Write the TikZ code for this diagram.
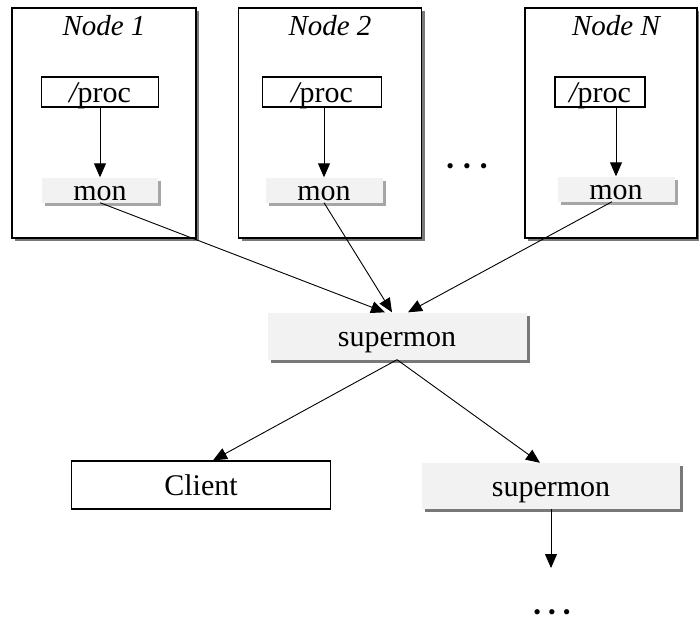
\documentclass[tikz,border=0pt]{standalone}
\usepackage{fontspec}
\setmainfont{Liberation Serif}
\usetikzlibrary{arrows.meta,shadows,positioning}
\definecolor{boxgray}{RGB}{242,242,242}
\definecolor{shadegray}{RGB}{120,120,120}

\begin{document}
\begin{tikzpicture}[%
    x=1pt, y=-1pt,
    >={Triangle[width=12pt,length=14pt]},
    font=\fontsize{30}{32}\selectfont,
    every node/.style={inner sep=0pt},
    boxtext/.style={text height=20pt, text depth=0pt},
    host/.style={draw, line width=1.3pt, fill=white, minimum height=230pt,
        drop shadow={shadow xshift=3pt, shadow yshift=-3pt, fill=shadegray, opacity=1}},
    hostlabel/.style={font=\fontsize{29}{30}\selectfont\itshape},
    procbox/.style={boxtext, draw, line width=1.1pt, fill=white, minimum height=30pt},
    monbox/.style={boxtext, fill=boxgray, minimum height=25pt,
        drop shadow={shadow xshift=3pt, shadow yshift=-3pt, fill=gray!70, opacity=1}},
    superbox/.style={boxtext, fill=boxgray, minimum width=259pt, minimum height=47pt,
        drop shadow={shadow xshift=3pt, shadow yshift=-3pt, fill=shadegray, opacity=1}},
    clientbox/.style={boxtext, draw, line width=1.3pt, fill=white, minimum width=259pt, minimum height=48pt},
    moredots/.style={font=\fontsize{22}{22}\selectfont, text height=13pt, text depth=0pt},
    link/.style={->, line width=0.9pt}
    ]

    \useasboundingbox (0,0) rectangle (699,625);

    % the monitored nodes
    \node[host, minimum width=184pt] (host1) at (104,123) {};
    \node[host, minimum width=183pt] (host2) at (330,123) {};
    \node[host, minimum width=172pt] (hostN) at (611,123) {};
    \node[hostlabel, below=8pt of host1.north] (lab1) {Node 1};
    \node[hostlabel, below=8pt of host2.north] (lab2) {Node 2};
    \node[hostlabel, below=8pt of hostN.north, xshift=5pt] (labN) {Node N};

    \node[procbox, minimum width=117pt] (proc1) at (100,92) {\textit{/}\kern-2pt proc};
    \node[procbox, minimum width=119pt] (proc2) at (322,92) {\textit{/}\kern-2pt proc};
    \node[procbox, minimum width=90pt]  (procN) at (600,92) {\textit{/}\kern-2pt proc};

    \node[monbox, minimum width=116pt] (mon1) at (100,190) {mon};
    \node[monbox, minimum width=117pt] (mon2) at (324,190) {mon};
    \node[monbox, minimum width=117pt] (monN) at (616,189) {mon};

    \node[moredots] (dots1) at (467,167) {\textbullet\hspace{9pt}\textbullet\hspace{9pt}\textbullet};

    % supermon and its clients
    \node[superbox] (super1) at (397,336) {supermon};
    \node[clientbox] (client) at (201,485) {Client};
    \node[superbox, minimum width=258pt, minimum height=46pt] (super2) at (551,486) {supermon};
    \coordinate (tail) at (551,568);
    \node[moredots] (dots2) at (552,613) {\textbullet\hspace{7pt}\textbullet\hspace{7pt}\textbullet};

    \draw[link] (mon1.north |- proc1.south) -- (mon1.north);
    \draw[link] (mon2.north |- proc2.south) -- (mon2.north);
    \draw[link] (monN.north |- procN.south) -- (monN.north);

    \draw[link] (mon1.south) -- ([xshift=-12pt]super1.north);
    \draw[link] (mon2.south) -- ([xshift=-5pt]super1.north);
    \draw[link] ([xshift=-4pt]monN.south) -- ([xshift=11pt]super1.north);

    \draw[link] (super1.south) -- ([xshift=12pt]client.north);
    \draw[link] (super1.south) -- ([xshift=-11pt]super2.north);
    \draw[link] (super2.south) -- (tail);

\end{tikzpicture}
\end{document}
